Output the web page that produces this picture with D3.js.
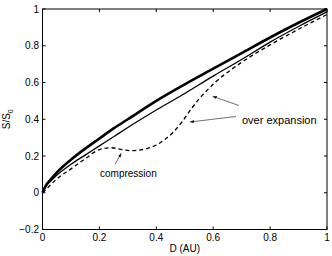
<!DOCTYPE html>
<html><head><meta charset="utf-8">
<script src="https://cdn.jsdelivr.net/npm/d3@7"></script>
<style>body{margin:0;background:#fff}svg{display:block}text{font-family:"Liberation Sans",Arial,sans-serif;fill:#000}</style>
</head><body><svg id="c" width="332" height="256"></svg>
<script>
const xTicks = [0, 0.2, 0.4, 0.6, 0.8, 1];
const yTicks = [-0.2, 0, 0.2, 0.4, 0.6, 0.8, 1];
const thickX = [0,0.01,0.03,0.05,0.1,0.15,0.2,0.25,0.3,0.4,0.5,0.6,0.7,0.8,0.9,1];
const thickY = [0,0.035,0.075,0.11,0.18,0.24,0.295,0.35,0.40,0.50,0.59,0.675,0.76,0.845,0.925,1.0];
const thinX = [0,0.01,0.03,0.05,0.1,0.15,0.2,0.25,0.3,0.4,0.5,0.6,0.7,0.8,0.9,1];
const thinY = [0,0.03,0.065,0.095,0.155,0.205,0.255,0.305,0.355,0.45,0.54,0.635,0.725,0.82,0.905,0.985];
const dashX = [0,0.02,0.05,0.1,0.15,0.2,0.24,0.28,0.31,0.34,0.37,0.40,0.43,0.46,0.49,0.52,0.55,0.58,0.61,0.65,0.7,0.8,0.9,1];
const dashY = [0,0.03,0.075,0.13,0.185,0.235,0.245,0.235,0.229,0.232,0.242,0.26,0.29,0.33,0.385,0.45,0.51,0.56,0.605,0.655,0.71,0.805,0.89,0.97];

const svg = d3.select("#c");
const L = 42.5, R = 327, T = 9, B = 229.5;
const x = d3.scaleLinear().domain([0,1]).range([L,R]);
const y = d3.scaleLinear().domain([-0.2,1]).range([B,T]);
const fmt = d => d < 0 ? "\u2212" + Math.abs(d) : String(d);

const tl = 3;
const g = svg.append("g");
xTicks.forEach(t => {
  g.append("line").attr("x1",x(t)).attr("x2",x(t)).attr("y1",B).attr("y2",B-tl).attr("stroke","#000");
  g.append("line").attr("x1",x(t)).attr("x2",x(t)).attr("y1",T).attr("y2",T+tl).attr("stroke","#000");
  g.append("text").attr("x",x(t)).attr("y",241).attr("text-anchor","middle").attr("font-size",10).text(fmt(t));
});
yTicks.forEach(t => {
  g.append("line").attr("x1",L).attr("x2",L+tl).attr("y1",y(t)).attr("y2",y(t)).attr("stroke","#000");
  g.append("line").attr("x1",R).attr("x2",R-tl).attr("y1",y(t)).attr("y2",y(t)).attr("stroke","#000");
  g.append("text").attr("x",39).attr("y",y(t)+3.5).attr("text-anchor","end").attr("font-size",10).text(fmt(t));
});
svg.append("rect").attr("x",L).attr("y",T).attr("width",R-L).attr("height",B-T)
  .attr("fill","none").attr("stroke","#000").attr("stroke-width",1);

const line = d3.line().x(d=>x(d[0])).y(d=>y(d[1])).curve(d3.curveMonotoneX);
const zip = (a,b) => a.map((v,i)=>[v,b[i]]);
svg.append("path").attr("d",line(zip(thickX,thickY))).attr("fill","none").attr("stroke","#000").attr("stroke-width",2.6);
svg.append("path").attr("d",line(zip(thinX,thinY))).attr("fill","none").attr("stroke","#000").attr("stroke-width",1.3);
svg.append("path").attr("d",line(zip(dashX,dashY))).attr("fill","none").attr("stroke","#000").attr("stroke-width",1.3).attr("stroke-dasharray","4,3");

svg.append("defs").append("marker").attr("id","ah").attr("viewBox","0 0 10 10").attr("refX",10).attr("refY",5)
  .attr("markerWidth",6).attr("markerHeight",6).attr("orient","auto")
  .append("path").attr("d","M0,1.5L10,5L0,8.5Z").attr("fill","#000");
const arrow = (x1,y1,x2,y2) => svg.append("line").attr("x1",x1).attr("y1",y1).attr("x2",x2).attr("y2",y2)
  .attr("stroke","#333").attr("stroke-width",0.7).attr("marker-end","url(#ah)");
arrow(x(0.69),y(0.475),x(0.598),y(0.525));
arrow(x(0.68),y(0.415),x(0.518),y(0.385));
arrow(x(0.255),y(0.155),x(0.277),y(0.215));
svg.append("text").attr("x",242).attr("y",124).attr("font-size",11).text("over expansion");
svg.append("text").attr("x",100).attr("y",177).attr("font-size",10).text("compression");

svg.append("text").attr("x",(L+R)/2).attr("y",252).attr("text-anchor","middle").attr("font-size",10).text("D (AU)");
const yl = svg.append("text").attr("transform",`translate(10,${(T+B)/2}) rotate(-90)`).attr("text-anchor","middle").attr("font-size",10);
yl.append("tspan").text("S/S");
yl.append("tspan").attr("font-size",7).attr("dy",3).text("0");
</script></body></html>
